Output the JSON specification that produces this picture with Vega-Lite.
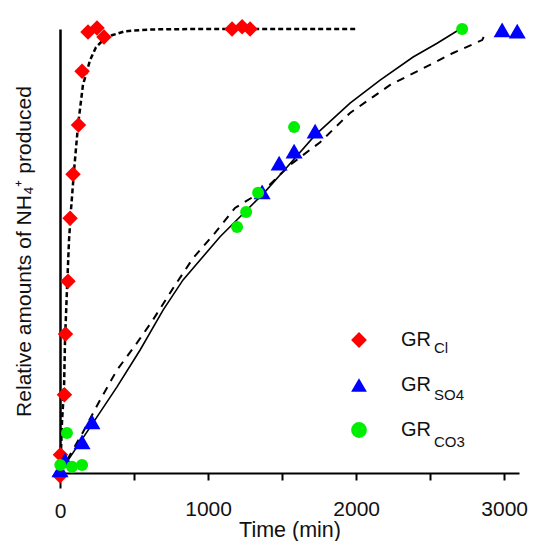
{
  "$schema": "https://vega.github.io/schema/vega-lite/v6.json",
  "width": 459,
  "height": 444,
  "autosize": {"type": "none"},
  "padding": {"left": 60, "top": 29, "right": 18, "bottom": 68},
  "background": "white",
  "config": {
    "view": {"stroke": null},
    "font": "Liberation Sans",
    "axis": {"labelFont": "Liberation Sans", "titleFont": "Liberation Sans"},
    "legend": {"labelFont": "Liberation Sans"}
  },
  "datasets": {
    "obs": [
      {"series": "Cl", "t": 0, "v": -0.006},
      {"series": "Cl", "t": 3, "v": 0.041},
      {"series": "Cl", "t": 30, "v": 0.176},
      {"series": "Cl", "t": 37, "v": 0.313},
      {"series": "Cl", "t": 54, "v": 0.432},
      {"series": "Cl", "t": 68, "v": 0.574},
      {"series": "Cl", "t": 88, "v": 0.673},
      {"series": "Cl", "t": 125, "v": 0.784},
      {"series": "Cl", "t": 149, "v": 0.905},
      {"series": "Cl", "t": 189, "v": 0.993},
      {"series": "Cl", "t": 250, "v": 1.002},
      {"series": "Cl", "t": 297, "v": 0.982},
      {"series": "Cl", "t": 1162, "v": 1.0},
      {"series": "Cl", "t": 1230, "v": 1.005},
      {"series": "Cl", "t": 1284, "v": 1.0},
      {"series": "SO4", "t": 0, "v": 0.007},
      {"series": "SO4", "t": 34, "v": 0.029},
      {"series": "SO4", "t": 149, "v": 0.07},
      {"series": "SO4", "t": 216, "v": 0.115},
      {"series": "SO4", "t": 1365, "v": 0.633},
      {"series": "SO4", "t": 1480, "v": 0.698},
      {"series": "SO4", "t": 1581, "v": 0.725},
      {"series": "SO4", "t": 1723, "v": 0.77},
      {"series": "SO4", "t": 2986, "v": 0.998},
      {"series": "SO4", "t": 3088, "v": 0.995},
      {"series": "CO3", "t": 47, "v": 0.09},
      {"series": "CO3", "t": 2, "v": 0.018},
      {"series": "CO3", "t": 81, "v": 0.014},
      {"series": "CO3", "t": 149, "v": 0.018},
      {"series": "CO3", "t": 1196, "v": 0.554},
      {"series": "CO3", "t": 1257, "v": 0.588},
      {"series": "CO3", "t": 1338, "v": 0.631},
      {"series": "CO3", "t": 1581, "v": 0.779},
      {"series": "CO3", "t": 2716, "v": 1.0}
    ],
    "fit": [
      {"series": "Cl", "t": 0, "v": 0},
      {"series": "Cl", "t": 7, "v": 0.052},
      {"series": "Cl", "t": 14, "v": 0.119},
      {"series": "Cl", "t": 27, "v": 0.187},
      {"series": "Cl", "t": 34, "v": 0.3},
      {"series": "Cl", "t": 47, "v": 0.412},
      {"series": "Cl", "t": 61, "v": 0.525},
      {"series": "Cl", "t": 74, "v": 0.592},
      {"series": "Cl", "t": 95, "v": 0.682},
      {"series": "Cl", "t": 122, "v": 0.784},
      {"series": "Cl", "t": 155, "v": 0.874},
      {"series": "Cl", "t": 203, "v": 0.93},
      {"series": "Cl", "t": 243, "v": 0.959},
      {"series": "Cl", "t": 291, "v": 0.975},
      {"series": "Cl", "t": 351, "v": 0.986},
      {"series": "Cl", "t": 439, "v": 0.995},
      {"series": "Cl", "t": 608, "v": 0.999},
      {"series": "Cl", "t": 946, "v": 1.0},
      {"series": "Cl", "t": 2000, "v": 1.0},
      {"series": "SO4", "t": 0, "v": 0},
      {"series": "SO4", "t": 68, "v": 0.041},
      {"series": "SO4", "t": 155, "v": 0.092},
      {"series": "SO4", "t": 270, "v": 0.164},
      {"series": "SO4", "t": 385, "v": 0.232},
      {"series": "SO4", "t": 520, "v": 0.293},
      {"series": "SO4", "t": 628, "v": 0.345},
      {"series": "SO4", "t": 777, "v": 0.423},
      {"series": "SO4", "t": 899, "v": 0.484},
      {"series": "SO4", "t": 1047, "v": 0.541},
      {"series": "SO4", "t": 1182, "v": 0.597},
      {"series": "SO4", "t": 1378, "v": 0.637},
      {"series": "SO4", "t": 1554, "v": 0.694},
      {"series": "SO4", "t": 1757, "v": 0.745},
      {"series": "SO4", "t": 1959, "v": 0.811},
      {"series": "SO4", "t": 2230, "v": 0.874},
      {"series": "SO4", "t": 2432, "v": 0.908},
      {"series": "SO4", "t": 2655, "v": 0.946},
      {"series": "SO4", "t": 2851, "v": 0.975},
      {"series": "SO4", "t": 2865, "v": 0.984},
      {"series": "CO3", "t": 0, "v": 0},
      {"series": "CO3", "t": 47, "v": 0.025},
      {"series": "CO3", "t": 223, "v": 0.113},
      {"series": "CO3", "t": 385, "v": 0.194},
      {"series": "CO3", "t": 541, "v": 0.277},
      {"series": "CO3", "t": 696, "v": 0.367},
      {"series": "CO3", "t": 831, "v": 0.435},
      {"series": "CO3", "t": 1081, "v": 0.532},
      {"series": "CO3", "t": 1378, "v": 0.631},
      {"series": "CO3", "t": 1534, "v": 0.689},
      {"series": "CO3", "t": 1723, "v": 0.761},
      {"series": "CO3", "t": 1959, "v": 0.833},
      {"series": "CO3", "t": 2162, "v": 0.885},
      {"series": "CO3", "t": 2385, "v": 0.937},
      {"series": "CO3", "t": 2547, "v": 0.968},
      {"series": "CO3", "t": 2703, "v": 1.0}
    ],
    "subs": [
      {"sub": "Cl"},
      {"sub": "SO4"},
      {"sub": "CO3"}
    ]
  },
  "encoding": {
    "x": {
      "field": "t",
      "type": "quantitative",
      "scale": {"domain": [0, 3100], "nice": false, "zero": false},
      "axis": {
        "values": [0, 500, 1000, 1500, 2000, 2500, 3000],
        "format": "d",
        "labelExpr": "datum.value % 1000 === 0 ? datum.label : ''",
        "labelFlush": false,
        "grid": false,
        "tickSize": {"condition": {"test": "datum.value === 0", "value": 15}, "value": 7},
        "tickWidth": 2,
        "tickColor": "black",
        "domainColor": "black",
        "domainWidth": 2,
        "labelFontSize": 21,
        "labelColor": "#111",
        "labelPadding": {"condition": {"test": "datum.value === 0", "value": 12}, "value": 18},
        "title": "Time (min)",
        "titleFontSize": 21.5,
        "titleFontWeight": "normal",
        "titleColor": "#111",
        "titlePadding": -2
      }
    },
    "y": {
      "field": "v",
      "type": "quantitative",
      "scale": {"domain": [0, 1], "nice": false, "zero": false},
      "axis": {
        "ticks": false,
        "labels": false,
        "grid": false,
        "domainColor": "black",
        "domainWidth": 2.5,
        "title": "Relative amounts of NH₄⁺ produced",
        "titleFontSize": 21,
        "titleFontWeight": "normal",
        "titleColor": "#111",
        "titlePadding": 26
      }
    }
  },
  "layer": [
    {
      "data": {"name": "fit"},
      "transform": [{"filter": "datum.series === 'Cl'"}],
      "mark": {"type": "line", "color": "black", "strokeWidth": 2.5, "strokeDash": [5, 3]}
    },
    {
      "data": {"name": "fit"},
      "transform": [{"filter": "datum.series === 'SO4'"}],
      "mark": {"type": "line", "color": "black", "strokeWidth": 2, "strokeDash": [8, 7]}
    },
    {
      "data": {"name": "fit"},
      "transform": [{"filter": "datum.series === 'CO3'"}],
      "mark": {"type": "line", "color": "black", "strokeWidth": 1.6}
    },
    {
      "data": {"name": "obs"},
      "transform": [{"filter": "datum.series === 'Cl'"}],
      "mark": {"type": "point", "filled": true, "opacity": 1, "size": 240},
      "encoding": {
        "color": {
          "field": "series", "type": "nominal",
          "scale": {"domain": ["Cl", "SO4", "CO3"], "range": ["#ff0000", "#0000ff", "#00ee00"]},
          "legend": {
            "orient": "none", "legendX": 289, "legendY": 301, "title": null, "padding": 0,
            "symbolSize": 250, "labelOffset": 32, "labelFontSize": 20, "labelColor": "#111",
            "rowPadding": 25, "labelExpr": "'GR'"
          }
        },
        "shape": {
          "field": "series", "type": "nominal",
          "scale": {"domain": ["Cl", "SO4", "CO3"], "range": ["diamond", "triangle-up", "circle"]}
        }
      }
    },
    {
      "data": {"name": "obs"},
      "transform": [{"filter": "datum.series === 'SO4'"}],
      "mark": {"type": "point", "filled": true, "opacity": 1, "size": 289},
      "encoding": {
        "color": {"field": "series", "type": "nominal"},
        "shape": {"field": "series", "type": "nominal"}
      }
    },
    {
      "data": {"name": "obs"},
      "transform": [{"filter": "datum.series === 'CO3'"}],
      "mark": {"type": "point", "filled": true, "opacity": 1, "size": 144},
      "encoding": {
        "color": {"field": "series", "type": "nominal"},
        "shape": {"field": "series", "type": "nominal"}
      }
    },
    {
      "data": {"name": "subs"},
      "mark": {"type": "point", "filled": false, "size": 1, "opacity": 0},
      "encoding": {
        "x": {"datum": null},
        "y": {"datum": null},
        "strokeDash": {
          "field": "sub",
          "type": "nominal",
          "sort": ["Cl", "SO4", "CO3"],
          "scale": {"range": [[1, 0], [1, 0], [1, 0]]},
          "legend": {
            "orient": "none",
            "legendX": 355,
            "legendY": 311,
            "title": null,
            "padding": 0,
            "symbolSize": 4,
            "symbolOpacity": 0,
            "symbolStrokeWidth": 0,
            "labelOffset": 4,
            "labelFontSize": 15,
            "labelColor": "#111",
            "rowPadding": 31
          }
        }
      }
    }
  ]
}
